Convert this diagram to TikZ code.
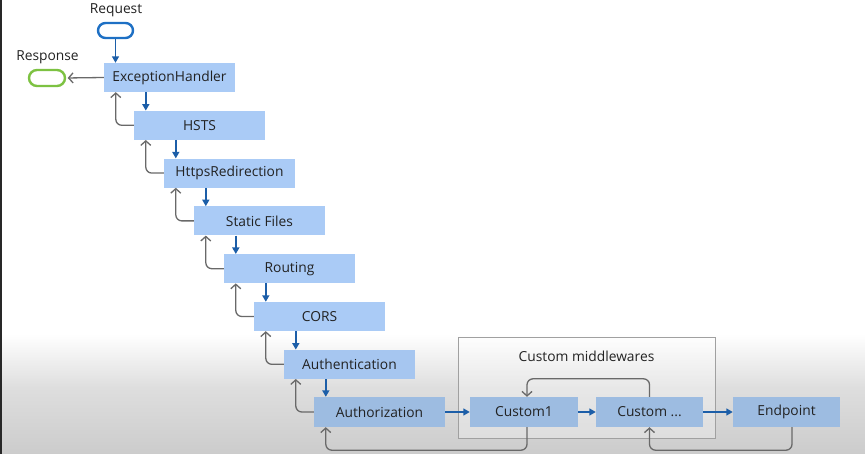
\documentclass[tikz,border=0pt]{standalone}
\usepackage{fontspec}
\setmainfont{Open Sans}
\usetikzlibrary{arrows.meta,calc}
\definecolor{boxblue}{RGB}{170,203,246}
\definecolor{boxmid}{RGB}{166,198,240}
\definecolor{boxlow}{RGB}{157,188,225}
\definecolor{arrblue}{RGB}{28,94,168}
\definecolor{arrgray}{RGB}{105,105,105}
\definecolor{reqblue}{RGB}{30,112,196}
\definecolor{resgreen}{RGB}{125,194,66}
\definecolor{txt}{RGB}{34,34,34}
\definecolor{grpgray}{RGB}{160,160,160}
\definecolor{bgmid}{RGB}{222,222,222}
\definecolor{bglow}{RGB}{204,204,204}
\definecolor{edgedark}{RGB}{40,40,40}
\begin{document}
\begin{tikzpicture}[x=1pt,y=-1pt,
  box/.style={fill=#1, minimum width=131pt, minimum height=29pt, inner sep=0pt, text=txt, font=\fontsize{13.8}{16}\selectfont},
  box/.default=boxblue,
  lbl/.style={inner sep=0pt, text=txt, font=\fontsize{13.8}{16}\selectfont},
  pill/.style={line width=2.4pt, fill=white, minimum width=35pt, minimum height=15pt, rounded corners=7.5pt, inner sep=0pt},
  group/.style={draw=grpgray, line width=0.9pt, fill=white, fill opacity=0.3, minimum width=257pt, minimum height=101pt, inner sep=0pt},
  down/.style={draw=arrblue, line width=1.5pt, -{Triangle[length=6.5pt,width=7pt]}},
  ret/.style={draw=arrgray, line width=1.3pt, rounded corners=6pt, -{Straight Barb[length=4.5pt,width=10pt]}}
]
\useasboundingbox (0,0) rectangle (865,454);
% background
\fill[white] (0,0) rectangle (865,454);
\shade[top color=white, bottom color=bgmid] (0,334) rectangle (865,388);
\shade[top color=bgmid, bottom color=bglow] (0,387.5) rectangle (865,454);
\fill[edgedark] (0,0) rectangle (1.5,454);

% group
\node[group] (grp) at (586.5,387.5) {};
\node[lbl] (grplbl) at (586.5,356) {Custom middlewares};

% boxes
\node[box] (eh) at (169.5,77.5) {ExceptionHandler};
\node[box] (hsts) at (199.5,125.3) {HSTS};
\node[box] (hr) at (229.5,173.1) {HttpsRedirection};
\node[box] (sf) at (259.5,220.9) {Static Files};
\node[box] (rt) at (289.5,268.7) {Routing};
\node[box] (cors) at (319.5,316.5) {CORS};
\node[box=boxmid] (authn) at (349.5,364.3) {Authentication};
\node[box=boxlow, minimum height=30pt] (authz) at (379.5,412) {Authorization};
\node[box=boxlow, minimum width=108pt, minimum height=30pt] (c1) at (524,412) {Custom1};
\node[box=boxlow, minimum width=107pt, minimum height=30pt] (cd) at (649.5,412) {Custom ...};
\node[box=boxlow, minimum width=107pt, minimum height=30pt] (ep) at (786.5,412) {Endpoint};

% request / response
\node[pill, draw=reqblue] (req) at (115.5,30.5) {};
\node[lbl] (reqlbl) at (116,10) {Request};
\node[pill, draw=resgreen, minimum width=36pt, minimum height=16pt, rounded corners=8pt] (resp) at (47,78) {};
\node[lbl] (resplbl) at (47.5,57.5) {Response};

\draw[down] (req.south) -- (req.south |- eh.north);
\draw[ret, shorten >=1.5pt] (eh.west) -- (resp.east);

% cascade
\foreach \a/\b in {eh/hsts,hsts/hr,hr/sf,sf/rt,rt/cors,cors/authn,authn/authz} {
  \draw[down] ([xshift=42pt]\a.south west) -- ([xshift=12pt]\b.north west);
  \draw[ret] (\b.west) -| ([xshift=12pt]\a.south west);
}

% horizontal chain
\draw[down] (authz.east) -- (c1.west);
\draw[down] (c1.east) -- (cd.west);
\draw[down] (cd.east) -- (ep.west);

% loops
\draw[ret] (cd.north) -- ++(0,-18) -| ([xshift=3pt]c1.north);
\draw[ret] ([xshift=3pt]c1.south) -- ++(0,23) -| ([xshift=12pt]authz.south west);
\draw[ret] ([xshift=5.5pt]ep.south) -- ++(0,23) -| (cd.south);
\end{tikzpicture}
\end{document}
